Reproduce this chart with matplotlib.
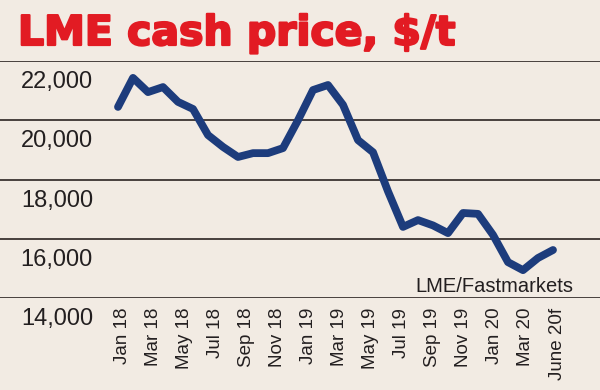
import matplotlib

matplotlib.use("Agg")
import matplotlib.pyplot as plt
import matplotlib.patheffects as pe
import matplotlib.transforms as mtransforms
import numpy as np

BG, RED, NAVY, GRID = "#f2ebe3", "#e21b23", "#1d3c7c", "#3b3230"

# monthly LME cash price, Jan 2018 .. Jun 2020 (forecast), $/t
months = ["Jan 18", "Feb 18", "Mar 18", "Apr 18", "May 18", "Jun 18", "Jul 18", "Aug 18",
          "Sep 18", "Oct 18", "Nov 18", "Dec 18", "Jan 19", "Feb 19", "Mar 19", "Apr 19",
          "May 19", "Jun 19", "Jul 19", "Aug 19", "Sep 19", "Oct 19", "Nov 19", "Dec 19",
          "Jan 20", "Feb 20", "Mar 20", "Apr 20", "May 20", "Jun 20"]
price = [20450, 21430, 20950, 21120, 20620, 20380, 19500, 19100, 18760, 18890,
         18890, 19060, 20000, 21020, 21190, 20520, 19330, 18920, 17600, 16400,
         16630, 16450, 16190, 16870, 16840, 16130, 15210, 14940, 15350, 15620]
tick_labels = ["Jan 18", "Mar 18", "May 18", "Jul 18", "Sep 18", "Nov 18", "Jan 19",
               "Mar 19", "May 19", "Jul 19", "Sep 19", "Nov 19", "Jan 20", "Mar 20",
               "June 20f"]
y_ticks = [14000, 16000, 18000, 20000, 22000]

fig = plt.figure(figsize=(6, 3.9), dpi=100, facecolor=BG)
ax = fig.add_axes([0, 92 / 390, 1, 237 / 390], facecolor=BG)

x = np.arange(len(months))
ax.plot(x, price, color=NAVY, lw=5.6, solid_joinstyle="round", solid_capstyle="round",
        zorder=3)

ax.set_xlim(-118 / 15, 482 / 15)
ax.set_ylim(y_ticks[0], y_ticks[-1])
for v in y_ticks:
    ax.axhline(v, color=GRID, lw=1.3, zorder=1)

# y labels sit just under their gridlines, on the left
lab_tr = mtransforms.offset_copy(ax.get_yaxis_transform(), fig=fig, x=0, y=-27, units="dots")
for v in y_ticks:
    ax.text(93 / 600, v, f"{v:,}", transform=lab_tr, ha="right", va="baseline",
            fontsize=17, color="#231f20", family="Liberation Sans")
ax.set_yticks([])

ax.set_xticks(np.linspace(0.27, len(months) - 1 + 0.27, len(tick_labels)))
ax.set_xticklabels(tick_labels, rotation=90, fontsize=13.5, color="#231f20",
                   family="Liberation Sans")
ax.tick_params(axis="x", length=0, pad=7)
for s in ax.spines.values():
    s.set_visible(False)

ax.text(573 / 600, 0.025, "LME/Fastmarkets", transform=ax.transAxes, ha="right",
        va="baseline", fontsize=14.5, color="#231f20", family="Liberation Sans")

fig.text(18 / 600, 1 - 45 / 390, "LME cash price, $/t", ha="left", va="baseline",
         fontsize=29.5, fontweight="bold", color=RED, family="DejaVu Sans",
         path_effects=[pe.withStroke(linewidth=1.6, foreground=RED)])

fig.savefig("out.png", dpi=100, facecolor=BG)
